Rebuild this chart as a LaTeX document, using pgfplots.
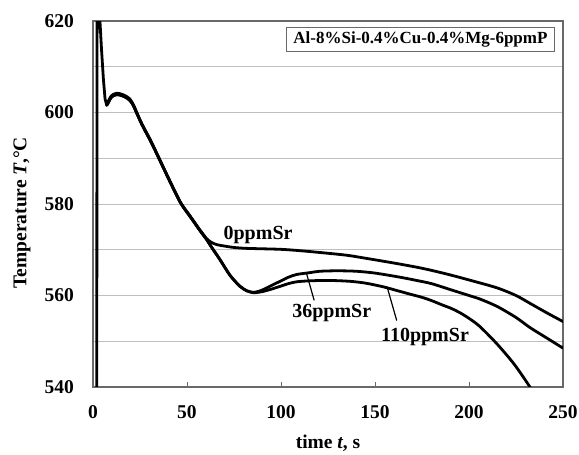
\documentclass[border=0pt]{standalone}
\usepackage{pgfplots}
\pgfplotsset{compat=1.18}
\usepackage{fontspec}
\setmainfont{Liberation Serif}
\definecolor{framegray}{RGB}{105,105,105}
\definecolor{gridgray}{RGB}{190,190,190}
\begin{document}
\begin{tikzpicture}
\useasboundingbox (0,0) rectangle (579pt,455pt);
\begin{axis}[
  at={(93pt,68pt)}, anchor=south west,
  scale only axis, width=470pt, height=366pt,
  xmin=0, xmax=250, ymin=540, ymax=620,
  xtick={0,50,...,250}, ytick={540,560,...,620},
  minor ytick={550,570,590,610},
  ymajorgrids, yminorgrids,
  major grid style={gridgray, line width=0.9pt},
  minor grid style={gridgray, line width=0.9pt},
  tick align=inside, major tick length=5pt, minor tick length=0pt,
  xtick pos=bottom, ytick pos=left,
  ytick style={draw=none},
  xtick style={framegray, line width=0.8pt},
  axis line style={framegray, line width=1.5pt},
  /pgf/number format/assume math mode=true,
  /pgf/number format/set thousands separator={},
  ticklabel style={font=\fontsize{19.5}{22}\selectfont\bfseries, inner sep=0pt},
  yticklabel style={xshift=-19pt},
  xticklabel style={yshift=-18pt},
  xlabel={time \textit{t}, s},
  ylabel={Temperature \textit{T},°\kern-0.06em C},
  label style={font=\fontsize{19.5}{22}\selectfont\bfseries},
  xlabel style={at={(rel axis cs:0.5,-0.153)}, anchor=center},
  ylabel style={at={(rel axis cs:-0.151,0.475)}, anchor=center},
  every axis plot/.append style={line join=round, line cap=round},
  curve/.style={black, line width=2.8pt},
]
% initial spike (shared by the three melts)
\addplot[curve] coordinates {
(2.0,530) (2.1,600) (2.25,632) (2.7,636) (3.3,626) (3.7,620) (4.5,614) (5.5,607.5) (6.4,603.0) (7.3,601.6) (8.3,602.3)
};
% 0 ppm Sr
\addplot[curve, smooth, tension=0.45] coordinates {
(7.3,601.8)
(8.3,602.6) (9.5,603.5) (11,604.0) (12.5,604.2) (14.5,604.1) (17,603.7) (19.5,603.0) (21.5,601.7) (23.2,600.1)
(26,597.5) (30.3,594.2) (33.9,591.1) (40,585.8) (46.5,580.4) (51.6,577.4) (56.9,574.3) (60.5,572.4)
(63,571.6) (66,571.1) (70,570.8) (75,570.5) (81.8,570.3) (99.5,570.1) (110,569.8) (120.7,569.4)
(135,568.8) (145.6,568.1) (160,567.1) (172,566.2) (180,565.5) (190,564.5) (200,563.4) (214.7,561.7)
(225,560.0) (232.4,558.3) (241,556.3) (250,554.3)
};
% 36 ppm Sr
\addplot[curve, smooth, tension=0.45] coordinates {
(7.3,601.6)
(8.3,602.3) (9.5,603.2) (11,603.7) (12.5,603.9) (14.5,603.8) (17,603.4) (19.5,602.7) (21.5,601.5) (23.2,599.9)
(26,597.4) (30.3,594.0) (33.9,591.0) (40,585.7) (46.5,580.3) (51.6,577.3) (56.9,574.2) (60.5,572.2)
(63,570.6) (67.6,567.8) (72.9,564.4) (78.2,562.0) (82,561.0) (85.3,560.7) (88,560.9) (90.6,561.3)
(95,562.2) (99.5,563.1) (104,564.0) (108.4,564.6) (115.4,565.0) (120.7,565.3) (130,565.4) (140,565.3)
(150,564.9) (163.3,564.0) (172,563.3) (180,562.6) (190,561.3) (200,560.0) (206,559.2) (215,557.6)
(225,555.2) (232.4,553.0) (241,550.8) (250,548.5)
};
% 110 ppm Sr
\addplot[curve, smooth, tension=0.45] coordinates {
(7.3,601.6)
(8.3,602.3) (9.5,603.2) (11,603.7) (12.5,603.9) (14.5,603.8) (17,603.4) (19.5,602.7) (21.5,601.5) (23.2,599.9)
(26,597.4) (30.3,594.0) (33.9,591.0) (40,585.7) (46.5,580.3) (51.6,577.3) (56.9,574.2) (60.5,572.2)
(63,570.6) (67.6,567.8) (72.9,564.4) (78.2,562.0) (82,561.0) (85.3,560.6) (88,560.7) (90.6,560.9)
(95,561.4) (99.5,562.0) (104,562.6) (108.4,563.0) (115,563.2) (125,563.3) (136.7,563.1) (145,562.7)
(154.4,561.9) (161.5,561.1) (168.6,560.3) (175,559.6) (180,558.9) (186,557.9) (191,557.1) (197,555.8)
(205,553.5) (214.7,549.5) (224,545.0) (232.4,540.0) (238,536.0)
};
% leader lines
\addplot[black, line width=1.2pt] coordinates {(113.6,564.8) (117.6,559.0)};
\addplot[black, line width=1.2pt] coordinates {(156.5,561.8) (161.5,554.6)};
% curve labels
\node[font=\fontsize{20}{22}\selectfont\bfseries] at (axis cs:87.8,573.2) {0ppmSr};
\node[font=\fontsize{20}{22}\selectfont\bfseries] at (axis cs:127,556.2) {36ppmSr};
\node[font=\fontsize{20}{22}\selectfont\bfseries] at (axis cs:176.6,551.0) {110ppmSr};
% composition box
\node[draw=framegray, line width=1pt, fill=white, anchor=north east,
      font=\fontsize{17}{20}\selectfont\bfseries, inner xsep=7pt, minimum height=24pt]
  at ([xshift=-8pt,yshift=-6pt]rel axis cs:1,1) {Al-8\%Si-0.4\%Cu-0.4\%Mg-6ppmP};
\end{axis}
\end{tikzpicture}
\end{document}
